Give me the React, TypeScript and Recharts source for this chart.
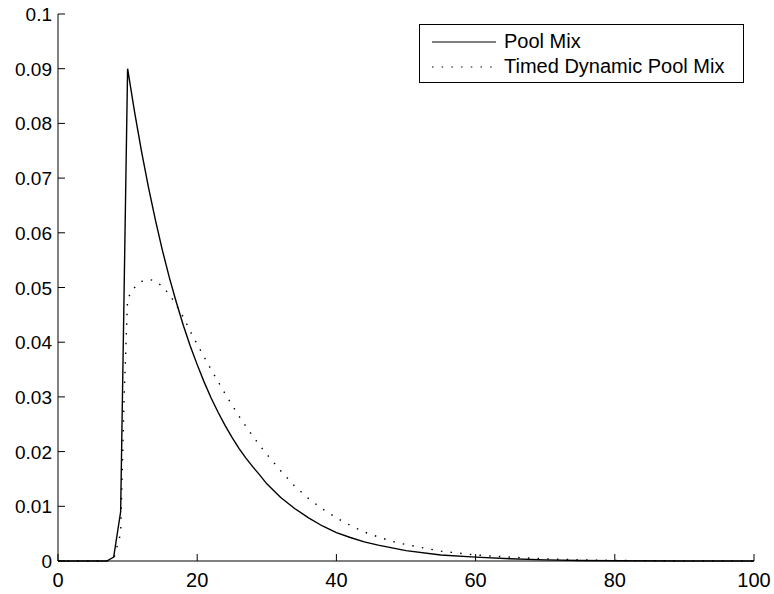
import { LineChart, Line, XAxis, YAxis, Legend } from "recharts";

const xValues = [
  0, 6, 7, 8, 9, 9.5, 10, 11, 12, 13, 14, 15, 16, 17, 18, 19, 20, 21, 22, 23,
  24, 25, 26, 27, 28, 29, 30, 32, 34, 36, 38, 40, 42, 44, 46, 48, 50, 55, 60,
  65, 70, 75, 80, 90, 100,
];

const poolMix = [
  0, 0, 0, 0.0007, 0.009, 0.0495, 0.09, 0.0821, 0.0749, 0.0683, 0.0623, 0.0568,
  0.0518, 0.0473, 0.0431, 0.0393, 0.0359, 0.0327, 0.0298, 0.0272, 0.0248,
  0.0226, 0.0206, 0.0188, 0.0172, 0.0157, 0.0141, 0.0116, 0.0096, 0.0079,
  0.0064, 0.0052, 0.0043, 0.0035, 0.0029, 0.0024, 0.0019, 0.0011, 0.0007,
  0.0004, 0.0002, 0.0001, 0.00005, 0, 0,
];

const timedDynamicPoolMix = [
  0, 0, 0, 0.0004, 0.005, 0.03, 0.048, 0.05, 0.0511, 0.0515, 0.0512, 0.0502,
  0.0487, 0.0468, 0.0446, 0.042, 0.0396, 0.0373, 0.035, 0.0328, 0.0306,
  0.0285, 0.0265, 0.0246, 0.0228, 0.0211, 0.0195, 0.0165, 0.0137, 0.0114,
  0.0095, 0.0079, 0.0065, 0.0053, 0.0044, 0.0036, 0.003, 0.0018, 0.0011,
  0.0007, 0.0004, 0.0002, 0.0001, 0.00002, 0,
];

const xTicks = [0, 20, 40, 60, 80, 100];
const yTicks = [0, 0.01, 0.02, 0.03, 0.04, 0.05, 0.06, 0.07, 0.08, 0.09, 0.1];

const data = xValues.map((x, i) => ({
  x,
  pool: poolMix[i],
  timed: timedDynamicPoolMix[i],
}));

const font = "'Liberation Sans', Arial, Helvetica, sans-serif";

// inward tick marks drawn with the label
const XTick = ({ x, y, payload }: any) => (
  <g>
    <path d={`M${x},${y}v-7`} stroke="#000" strokeWidth={1} fill="none" />
    <text x={x} y={y + 26} textAnchor="middle" fontSize={20} fill="#000" fontFamily={font}>
      {payload.value}
    </text>
  </g>
);

const YTick = ({ x, y, payload }: any) => (
  <g>
    <path d={`M${x},${y}h7`} stroke="#000" strokeWidth={1} fill="none" />
    <text x={x - 6} y={y + 7} textAnchor="end" fontSize={19} fill="#000" fontFamily={font}>
      {String(payload.value)}
    </text>
  </g>
);

const LegendBox = () => (
  <div
    style={{
      width: 325,
      height: 59,
      boxSizing: "border-box",
      border: "1px solid #000",
      background: "#fff",
      fontFamily: font,
      fontSize: 20,
      color: "#000",
      position: "relative",
    }}
  >
    <svg width={80} height={59} style={{ position: "absolute", left: 0, top: 0 }}>
      <line x1={12} y1={17} x2={76} y2={17} stroke="#000" strokeWidth={1.2} />
      <line x1={12} y1={42} x2={72} y2={42} stroke="#000" strokeWidth={1.2} strokeDasharray="1.5 8.2" />
    </svg>
    <div style={{ position: "absolute", left: 84, top: 4, lineHeight: "24px" }}>Pool Mix</div>
    <div style={{ position: "absolute", left: 84, top: 29, lineHeight: "24px" }}>Timed Dynamic Pool Mix</div>
  </div>
);

export default function App() {
  return (
    <div style={{ position: "absolute", left: 0, top: 0, background: "#fff" }}>
      <LineChart
        width={774}
        height={594}
        data={data}
        margin={{ top: 14, right: 20, bottom: 0, left: 0 }}
      >
        <XAxis
          dataKey="x"
          type="number"
          domain={[0, 100]}
          ticks={xTicks}
          height={33}
          tickSize={0}
          tickMargin={0}
          tickLine={false}
          axisLine={{ stroke: "#000" }}
          tick={<XTick />}
          interval={0}
        />
        <YAxis
          type="number"
          domain={[0, 0.1]}
          ticks={yTicks}
          width={58}
          tickSize={0}
          tickMargin={0}
          tickLine={false}
          axisLine={{ stroke: "#000" }}
          tick={<YTick />}
          interval={0}
        />
        <Legend
          layout="horizontal"
          align="center"
          verticalAlign="middle"
          content={<LegendBox />}
          wrapperStyle={{ position: "absolute", left: 419, top: 24, width: 325, height: 59 }}
        />
        <Line
          type="linear"
          dataKey="pool"
          stroke="#000"
          strokeWidth={1.4}
          dot={false}
          isAnimationActive={false}
        />
        <Line
          type="linear"
          dataKey="timed"
          stroke="#000"
          strokeWidth={1.4}
          strokeDasharray="1.5 8.2"
          dot={false}
          isAnimationActive={false}
        />
      </LineChart>
    </div>
  );
}
